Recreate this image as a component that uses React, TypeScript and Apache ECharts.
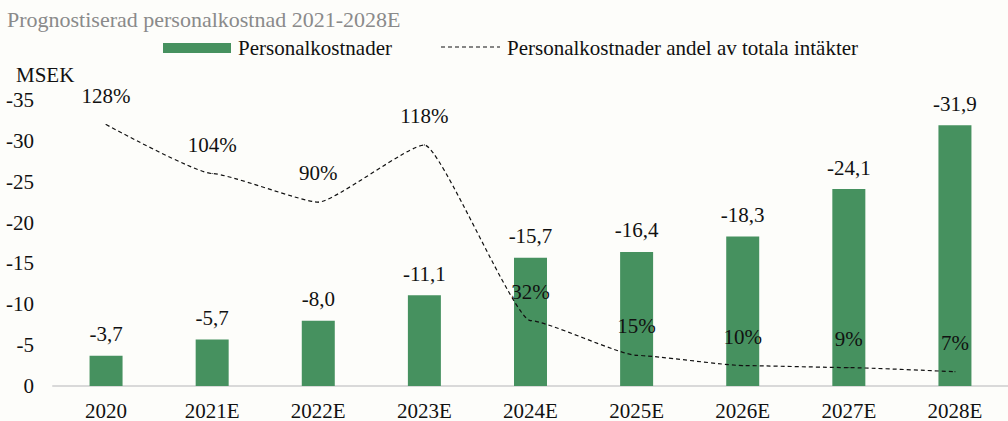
import React, { useEffect, useRef } from "react";
import * as echarts from "echarts";

const categories = ["2020", "2021E", "2022E", "2023E", "2024E", "2025E", "2026E", "2027E", "2028E"];
const personalkostnader = [3.7, 5.7, 8.0, 11.1, 15.7, 16.4, 18.3, 24.1, 31.9];
const andelProcent = [128, 104, 90, 118, 32, 15, 10, 9, 7];
const yTicks = [0, 5, 10, 15, 20, 25, 30, 35];

const FONT = "Liberation Serif";
const GREEN = "#46915f";
const FS = 21;

export default function App() {
  const ref = useRef<HTMLDivElement>(null);
  useEffect(() => {
    const chart = echarts.init(ref.current!, null, { renderer: "svg" });
    const txt = (size: number, color = "#111") => ({ fontSize: size, fontFamily: FONT, color });
    chart.setOption({
      animation: false,
      backgroundColor: "#fdfdfa",
      textStyle: { fontFamily: FONT },
      grid: { left: 53, right: -5, top: 100, bottom: 34, containLabel: false },
      xAxis: {
        type: "category",
        data: categories,
        axisLine: { lineStyle: { color: "#d9d9d9", width: 2 } },
        axisTick: { show: false },
        axisLabel: { ...txt(FS), margin: 14 },
      },
      yAxis: [
        {
          type: "value",
          min: 0,
          max: yTicks[yTicks.length - 1],
          interval: 5,
          splitLine: { show: false },
          axisLine: { show: false },
          axisTick: { show: false },
          axisLabel: {
            ...txt(FS),
            margin: 19,
            formatter: (v: number) => (v === 0 ? "0" : "-" + v),
          },
        },
        { type: "value", min: 0, max: 140, show: false },
      ],
      series: [
        {
          type: "bar",
          data: personalkostnader,
          barWidth: 33,
          itemStyle: { color: GREEN },
          label: {
            show: true,
            position: "top",
            distance: 11,
            ...txt(FS),
            formatter: (p: any) => "-" + Number(p.value).toFixed(1).replace(".", ","),
          },
        },
        {
          type: "line",
          yAxisIndex: 1,
          data: andelProcent,
          smooth: 0.15,
          smoothMonotone: "x",
          showSymbol: true,
          symbol: "circle",
          symbolSize: 1,
          itemStyle: { color: "#111" },
          lineStyle: { color: "#111", width: 1.2, type: [4, 3] },
          label: {
            show: true,
            position: "top",
            distance: 18,
            ...txt(FS),
            formatter: "{c}%",
          },
          z: 5,
        },
      ],
      graphic: [
        {
          type: "text",
          left: 7,
          top: 8,
          style: { text: "Prognostiserad personalkostnad 2021-2028E", fill: "#8a8a8a", fontSize: 22, fontFamily: FONT },
        },
        { type: "rect", shape: { x: 163, y: 43, width: 68, height: 10 }, style: { fill: GREEN } },
        {
          type: "text",
          x: 238,
          y: 48,
          style: { text: "Personalkostnader", fill: "#111", fontSize: FS, fontFamily: FONT, verticalAlign: "middle" },
        },
        {
          type: "line",
          shape: { x1: 441, y1: 47, x2: 500, y2: 47 },
          style: { stroke: "#111", lineWidth: 1.2, lineDash: [4, 3] },
        },
        {
          type: "text",
          x: 507,
          y: 48,
          style: {
            text: "Personalkostnader andel av totala intäkter",
            fill: "#111",
            fontSize: FS,
            fontFamily: FONT,
            verticalAlign: "middle",
          },
        },
        {
          type: "text",
          x: 16,
          y: 75,
          style: { text: "MSEK", fill: "#111", fontSize: FS, fontFamily: FONT, verticalAlign: "middle" },
        },
      ],
    });
    return () => chart.dispose();
  }, []);
  return (
    <div
      ref={ref}
      style={{ position: "fixed", left: 0, top: 0, width: 1008, height: 421 }}
    />
  );
}
